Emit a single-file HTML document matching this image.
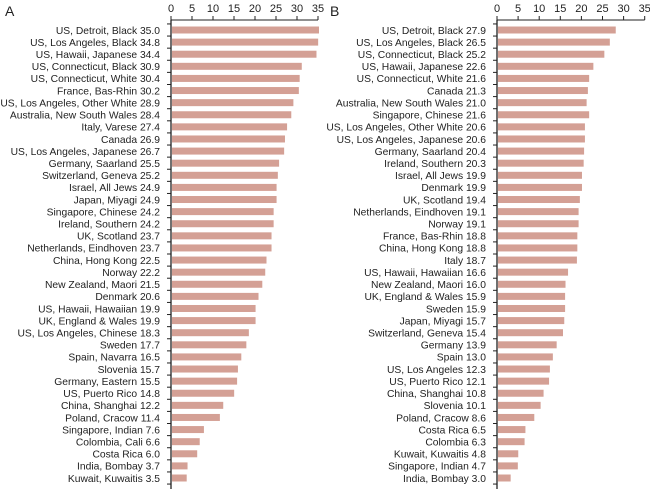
<!DOCTYPE html>
<html><head><meta charset="utf-8"><style>
html,body{margin:0;padding:0;background:#fff;}
svg{display:block;font-family:"Liberation Sans",Arial,sans-serif;}
</style></head><body>
<svg id="s" width="650" height="489" viewBox="0 0 650 489"></svg>
<script>
const A=[["US, Detroit, Black",35.0],["US, Los Angeles, Black",34.8],["US, Hawaii, Japanese",34.4],["US, Connecticut, Black",30.9],["US, Connecticut, White",30.4],["France, Bas-Rhin",30.2],["US, Los Angeles, Other White",28.9],["Australia, New South Wales",28.4],["Italy, Varese",27.4],["Canada",26.9],["US, Los Angeles, Japanese",26.7],["Germany, Saarland",25.5],["Switzerland, Geneva",25.2],["Israel, All Jews",24.9],["Japan, Miyagi",24.9],["Singapore, Chinese",24.2],["Ireland, Southern",24.2],["UK, Scotland",23.7],["Netherlands, Eindhoven",23.7],["China, Hong Kong",22.5],["Norway",22.2],["New Zealand, Maori",21.5],["Denmark",20.6],["US, Hawaii, Hawaiian",19.9],["UK, England & Wales",19.9],["US, Los Angeles, Chinese",18.3],["Sweden",17.7],["Spain, Navarra",16.5],["Slovenia",15.7],["Germany, Eastern",15.5],["US, Puerto Rico",14.8],["China, Shanghai",12.2],["Poland, Cracow",11.4],["Singapore, Indian",7.6],["Colombia, Cali",6.6],["Costa Rica",6.0],["India, Bombay",3.7],["Kuwait, Kuwaitis",3.5]];
const B=[["US, Detroit, Black",27.9],["US, Los Angeles, Black",26.5],["US, Connecticut, Black",25.2],["US, Hawaii, Japanese",22.6],["US, Connecticut, White",21.6],["Canada",21.3],["Australia, New South Wales",21.0],["Singapore, Chinese",21.6],["US, Los Angeles, Other White",20.6],["US, Los Angeles, Japanese",20.6],["Germany, Saarland",20.4],["Ireland, Southern",20.3],["Israel, All Jews",19.9],["Denmark",19.9],["UK, Scotland",19.4],["Netherlands, Eindhoven",19.1],["Norway",19.1],["France, Bas-Rhin",18.8],["China, Hong Kong",18.8],["Italy",18.7],["US, Hawaii, Hawaiian",16.6],["New Zealand, Maori",16.0],["UK, England & Wales",15.9],["Sweden",15.9],["Japan, Miyagi",15.7],["Switzerland, Geneva",15.4],["Germany",13.9],["Spain",13.0],["US, Los Angeles",12.3],["US, Puerto Rico",12.1],["China, Shanghai",10.8],["Slovenia",10.1],["Poland, Cracow",8.6],["Costa Rica",6.5],["Colombia",6.3],["Kuwait, Kuwaitis",4.8],["Singapore, Indian",4.7],["India, Bombay",3.0]];
let h='';
function panel(d,x0,sc,letter,lx){
  const n=d.length,y0=30,y1=478,st=(y1-y0)/(n-1);
  h+=`<text x="${lx}" y="16" font-size="14" fill="#222">${letter}</text>`;
  h+=`<line x1="${x0}" y1="20" x2="${x0+35*sc}" y2="20" stroke="#222" stroke-width="1"/>`;
  h+=`<line x1="${x0}" y1="20" x2="${x0}" y2="489" stroke="#222" stroke-width="1.3"/>`;
  for(let t=0;t<=35;t+=5){const x=x0+t*sc;h+=`<line x1="${x}" y1="16" x2="${x}" y2="20" stroke="#222"/><text x="${x}" y="12" font-size="11" text-anchor="middle" fill="#222">${t}</text>`;}
  for(let i=0;i<=n;i++){const y=y0+(i-0.5)*st;h+=`<line x1="${x0-4}" y1="${y}" x2="${x0}" y2="${y}" stroke="#222"/>`;}
  d.forEach((r,i)=>{const y=y0+i*st;
    h+=`<rect x="${x0+1}" y="${y-3.5}" width="${r[1]*sc}" height="7" fill="#d4a095"/>`;
    h+=`<text x="${x0-11}" y="${y+3.8}" font-size="10.3" text-anchor="end" fill="#222">${r[0].replace('&','&amp;')} ${r[1].toFixed(1)}</text>`;});
}
panel(A,171,4.2,'A',5);
panel(B,497,4.22,'B',330);
document.getElementById('s').innerHTML=h;
</script>
</body></html>
